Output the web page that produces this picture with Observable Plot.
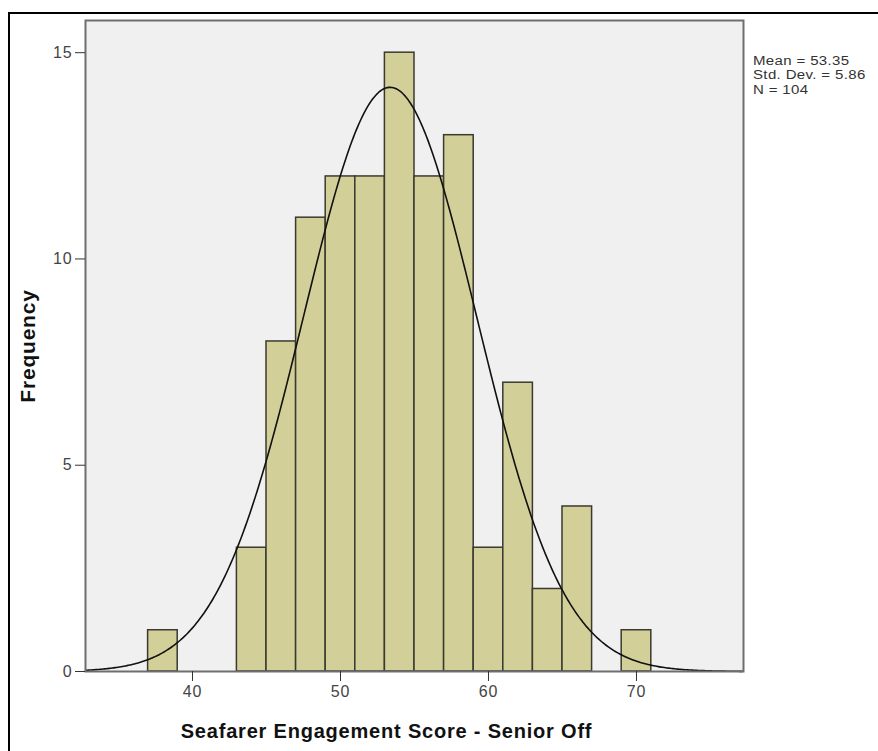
<!DOCTYPE html>
<html>
<head>
<meta charset="utf-8">
<script src="https://cdn.jsdelivr.net/npm/d3@7"></script>
<script src="https://cdn.jsdelivr.net/npm/@observablehq/plot@0.6"></script>
<style>
  html, body { margin: 0; padding: 0; background: #fff; overflow: hidden; width: 878px; height: 751px; }
  #wrap { position: relative; width: 878px; height: 751px; font-family: "Liberation Sans", Arial, sans-serif; }
  #border { position: absolute; left: 8px; top: 12px; width: 900px; height: 800px; border: 2px solid #000; box-sizing: border-box; }
  #chart { position: absolute; left: 0; top: 0; }
  #stats { position: absolute; left: 753px; top: 54px; font-size: 12.5px; line-height: 14.4px; color: #333; white-space: nowrap; letter-spacing: 0.3px; transform: scaleX(1.2); transform-origin: left top; }
  #chart svg { overflow: visible; }
  #chart svg g[aria-label="x-axis tick label"] text,
  #chart svg g[aria-label="y-axis tick label"] text { letter-spacing: 0.8px; }
</style>
</head>
<body>
<div id="wrap">
  <div id="border"></div>
  <div id="chart"></div>
  <div id="stats"></div>
</div>
<script>
// Histogram bins (score ranges) and frequencies
const binLo  = [37, 43, 45, 47, 49, 51, 53, 55, 57, 59, 61, 63, 65, 69];
const binHi  = [39, 45, 47, 49, 51, 53, 55, 57, 59, 61, 63, 65, 67, 71];
const counts = [1, 3, 8, 11, 12, 12, 15, 12, 13, 3, 7, 2, 4, 1];

// Summary statistics shown beside the chart
const mean = 53.35;
const stdDev = 5.86;
const n = 104;
const binWidth = 2;

// Axis ticks
const xTicks = [40, 50, 60, 70];
const yTicks = [0, 5, 10, 15];
const xDomain = [32.77, 77.23];
const yDomain = [0, 15.78];

const bars = binLo.map((lo, i) => ({x1: lo, x2: binHi[i], y: counts[i]}));

// Fitted normal curve from the stated mean, std. dev. and N
const curve = d3.range(xDomain[0], xDomain[1] + 0.001, 0.1).map(x => ({
  x,
  y: n * binWidth * Math.exp(-0.5 * ((x - mean) / stdDev) ** 2) / (stdDev * Math.sqrt(2 * Math.PI))
}));

const chart = Plot.plot({
  width: 878,
  height: 751,
  marginLeft: 85,
  marginRight: 135,
  marginTop: 20,
  marginBottom: 80,
  style: {fontFamily: "'Liberation Sans', Arial, sans-serif", fontSize: "16px", color: "#444", background: "transparent"},
  x: {domain: xDomain, ticks: xTicks},
  y: {domain: yDomain, ticks: yTicks},
  marks: [
    Plot.frame({fill: "#f0f0f0", stroke: null}),
    Plot.rectY(bars, {x1: "x1", x2: "x2", y: "y", fill: "#d3cf98", stroke: "#3a3a30", strokeWidth: 1.5}),
    Plot.line(curve, {x: "x", y: "y", stroke: "#111", strokeWidth: 1.6}),
    Plot.frame({stroke: "#6e6e6e", strokeWidth: 2}),
    Plot.axisX({ticks: xTicks, tickSize: 10, tickPadding: 4, label: null, fontSize: 16, stroke: "#333", fill: "#444"}),
    Plot.axisY({ticks: yTicks, tickSize: 10, tickPadding: 3, label: null, fontSize: 16, stroke: "#333", fill: "#444"}),
    Plot.text(["Frequency"], {frameAnchor: "left", rotate: -90, textAnchor: "middle", lineAnchor: "middle", dx: -57, fontSize: 21, fontWeight: "bold", fill: "#111"}),
    Plot.text(["Seafarer Engagement Score - Senior Off"], {frameAnchor: "bottom", textAnchor: "middle", lineAnchor: "middle", dx: -28, dy: 60, fontSize: 20, fontWeight: "bold", fill: "#111"})
  ]
});
document.getElementById("chart").appendChild(chart);

// widen the bold axis titles slightly, as in the reference
chart.querySelectorAll("text").forEach(t => {
  if (t.textContent === "Frequency" || t.textContent.startsWith("Seafarer")) t.style.letterSpacing = "0.8px";
});

document.getElementById("stats").innerHTML =
  `Mean = ${mean.toFixed(2)}<br>Std. Dev. = ${stdDev.toFixed(2)}<br>N = ${n}`;
</script>
</body>
</html>
